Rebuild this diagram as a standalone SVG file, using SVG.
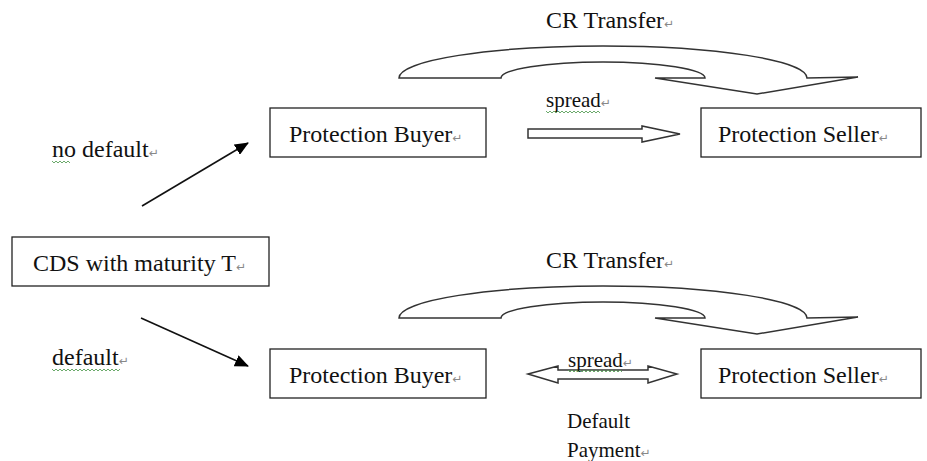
<svg xmlns="http://www.w3.org/2000/svg" width="927" height="461" viewBox="0 0 927 461">
<defs>
<style>
.t{font-family:"Liberation Serif","Times New Roman",serif;font-size:24px;fill:#111}
.s{font-family:"Liberation Serif","Times New Roman",serif;font-size:21px;fill:#111}
.pm{font-family:"DejaVu Sans",sans-serif;font-size:12px;fill:#888}
.box{fill:#fff;stroke:#222;stroke-width:1.3}
.blk{fill:#fff;stroke:#333;stroke-width:1.5;stroke-linejoin:miter}
.ln{stroke:#111;stroke-width:1.6;fill:none}
.sq{fill:none;stroke:#5aa05a;stroke-width:0.9}
</style>
<marker id="ah" viewBox="0 0 10 10" refX="9" refY="5" markerWidth="9" markerHeight="8" markerUnits="userSpaceOnUse" orient="auto">
<path d="M0,0 L10,5 L0,10 Z" fill="#000"/>
</marker>
<marker id="ah2" viewBox="0 0 14 12" refX="13" refY="6" markerWidth="14" markerHeight="12" markerUnits="userSpaceOnUse" orient="auto">
<path d="M0,0 L14,6 L0,12 Z" fill="#000"/>
</marker>
</defs>
<rect width="927" height="461" fill="#fff"/>

<g id="connectors">
<path class="blk" d="M399,78 A204,32 0 0 1 807,78 L858,77 L757,94 L655,78 L705,78 A102,16 0 0 0 501,78 Z"/>
<path class="blk" d="M399,318 A204,32 0 0 1 807,318 L858,317 L757,334 L655,318 L705,318 A102,16 0 0 0 501,318 Z"/>
<polygon class="blk" points="528,129 642,129 642,126 680,134 642,142 642,138 528,138"/>
<polygon class="blk" points="528,374 558,366 558,370 648,370 648,366 677,374 648,383 648,379 558,379 558,383"/>
<line class="ln" x1="142" y1="206" x2="248" y2="143" marker-end="url(#ah2)"/>
<line class="ln" x1="141" y1="318" x2="248" y2="366" marker-end="url(#ah2)"/>
</g>

<g id="labels">
<text class="t" x="546" y="28">CR Transfer<tspan class="pm">↵</tspan></text>
<text class="t" x="546" y="268">CR Transfer<tspan class="pm">↵</tspan></text>
<text class="s" x="546" y="107">spread<tspan class="pm">↵</tspan></text>
<path class="sq" d="M546,111 l2,2 l2,-2 l2,2 l2,-2 l2,2 l2,-2 l2,2 l2,-2 l2,2 l2,-2 l2,2 l2,-2 l2,2 l2,-2 l2,2 l2,-2 l2,2 l2,-2 l2,2 l2,-2 l2,2 l2,-2 l2,2 l2,-2 l2,2 l2,-2 l2,2"/>
<text class="s" x="568" y="367">spread<tspan class="pm">↵</tspan></text>
<path class="sq" d="M568,370 l2,2 l2,-2 l2,2 l2,-2 l2,2 l2,-2 l2,2 l2,-2 l2,2 l2,-2 l2,2 l2,-2 l2,2 l2,-2 l2,2 l2,-2 l2,2 l2,-2 l2,2 l2,-2 l2,2 l2,-2 l2,2 l2,-2 l2,2 l2,-2 l2,2"/>
<text class="t" x="52" y="157">no default<tspan class="pm">↵</tspan></text>
<path class="sq" d="M52,161 l2,2 l2,-2 l2,2 l2,-2 l2,2 l2,-2 l2,2 l2,-2 l2,2"/>
<text class="t" x="52" y="365">default<tspan class="pm">↵</tspan></text>
<path class="sq" d="M52,369 l2,2 l2,-2 l2,2 l2,-2 l2,2 l2,-2 l2,2 l2,-2 l2,2 l2,-2 l2,2 l2,-2 l2,2 l2,-2 l2,2 l2,-2 l2,2 l2,-2 l2,2 l2,-2 l2,2 l2,-2 l2,2 l2,-2 l2,2 l2,-2 l2,2 l2,-2 l2,2 l2,-2 l2,2 l2,-2 l2,2 l2,-2"/>
<text class="s" x="567" y="428">Default</text>
<text class="s" x="567" y="457">Payment<tspan class="pm">↵</tspan></text>
</g>

<g id="cds">
<rect class="box" x="12" y="237" width="257" height="49"/>
<text class="t" x="33" y="271">CDS with maturity T<tspan class="pm">↵</tspan></text>
</g>
<g id="buyer-top">
<rect class="box" x="270" y="108" width="216" height="49"/>
<text class="t" x="289" y="142">Protection Buyer<tspan class="pm">↵</tspan></text>
</g>
<g id="seller-top">
<rect class="box" x="701" y="108" width="220" height="49"/>
<text class="t" x="718" y="142">Protection Seller<tspan class="pm">↵</tspan></text>
</g>
<g id="buyer-bottom">
<rect class="box" x="270" y="349" width="216" height="49"/>
<text class="t" x="289" y="383">Protection Buyer<tspan class="pm">↵</tspan></text>
</g>
<g id="seller-bottom">
<rect class="box" x="701" y="349" width="220" height="49"/>
<text class="t" x="718" y="383">Protection Seller<tspan class="pm">↵</tspan></text>
</g>
</svg>
